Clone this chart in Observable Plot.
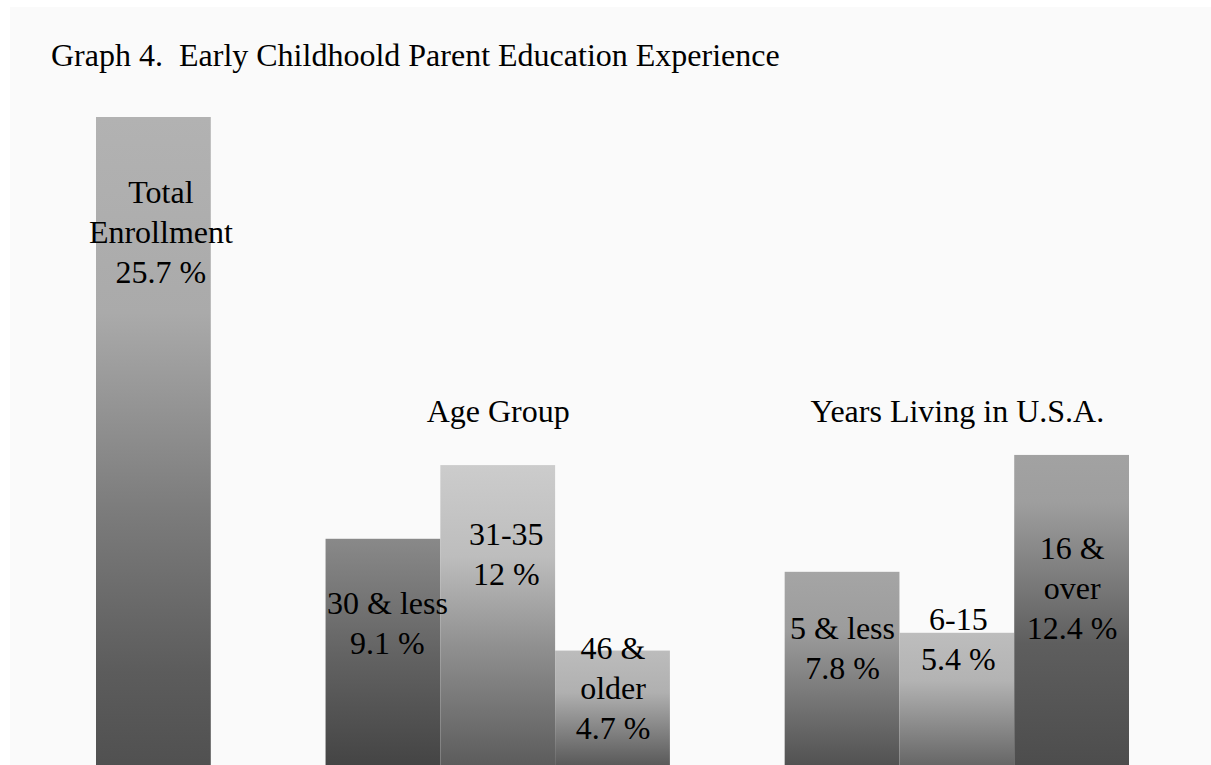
<!DOCTYPE html>
<html>
<head>
<meta charset="utf-8">
<script src="https://cdn.jsdelivr.net/npm/d3@7"></script>
<script src="https://cdn.jsdelivr.net/npm/@observablehq/plot@0.6"></script>
<style>
  html, body { margin: 0; padding: 0; background: #ffffff; overflow: hidden; width: 1211px; height: 765px; }
  #panel { position: absolute; left: 10px; top: 7px; right: 0; bottom: 0; background: #fafafa; }
  #wrap { position: absolute; left: 0; top: 0; width: 1211px; }
  #title { height: 100px; box-sizing: border-box; padding-top: 39px; padding-left: 51px;
           font-family: "Liberation Serif", "Times New Roman", serif; font-size: 32px; line-height: 32px;
           white-space: pre; color: #000; }
  svg { display: block; }
</style>
</head>
<body>
<div id="panel"></div>
<div id="wrap">
  <div id="title">Graph 4.  Early Childhoold Parent Education Experience</div>
  <div id="chart"></div>
</div>
<script>
// ---- data ----
const categories = ["Total Enrollment", "30 & less", "31-35", "46 & older", "5 & less", "6-15", "16 & over"];
const labelLines = ["Total\nEnrollment", "30 & less", "31-35", "46 &\nolder", "5 & less", "6-15", "16 &\nover"];
const values = [25.7, 9.1, 12, 4.7, 7.8, 5.4, 12.4];
const groupNames = ["Age Group", "Years Living in U.S.A."];
const groupCenters = ["31-35", "6-15"];

// ---- styles (not data) ----
const gradients = [
  [[0, "#b2b2b2"], [0.3, "#aaaaaa"], [0.6, "#7c7c7c"], [0.85, "#5c5c5c"], [1, "#505050"]],
  [[0, "#898989"], [0.5, "#636363"], [1, "#434343"]],
  [[0, "#cccccc"], [0.3, "#bdbdbd"], [0.6, "#8f8f8f"], [1, "#5a5a5a"]],
  [[0, "#bcbcbc"], [0.35, "#b0b0b0"], [1, "#545454"]],
  [[0, "#a5a5a5"], [0.3, "#9c9c9c"], [1, "#4f4f4f"]],
  [[0, "#bdbdbd"], [0.35, "#b3b3b3"], [1, "#626262"]],
  [[0, "#a2a2a2"], [0.15, "#9e9e9e"], [0.6, "#5e5e5e"], [1, "#4c4c4c"]]
];
const labelDy = [57, 46, 51, -20, 38, -32, 75];
const labelDx = [7, 4, 8, 0, 0, 1, 0];

const data = categories.map((c, i) => ({
  category: c,
  value: values[i],
  label: labelLines[i] + "\n" + values[i] + " %",
  fill: `url(#grad${i})`,
  dy: labelDy[i],
  dx: labelDx[i]
}));
const groups = groupNames.map((g, i) => ({ name: g, at: groupCenters[i] }));

// x domain with empty slots between groups
const xDomain = [categories[0], "\u2009", ...categories.slice(1, 4), "\u2009\u2009", ...categories.slice(4)];

const plot = Plot.plot({
  width: 1211,
  height: 670,
  marginLeft: 96,
  marginRight: 82,
  marginTop: 17,
  marginBottom: 0,
  style: { background: "transparent", fontFamily: "Liberation Serif, Times New Roman, serif", fontSize: "32px", overflow: "visible" },
  x: { domain: xDomain, padding: 0, round: false, axis: null },
  y: { domain: [0, 25.7], axis: null },
  color: { type: "identity" },
  marks: [
    Plot.barY(data, { x: "category", y: "value", fill: "fill" }),
    ...data.map(d => Plot.text([d], {
      x: "category", y: "value", text: "label", lineAnchor: "top", lineHeight: 1.25,
      dy: d.dy, dx: d.dx, fill: "#000", fontSize: 32
    })),
    Plot.text(groups, {
      x: "at", frameAnchor: "top", text: "name", lineAnchor: "top", dy: 282, fill: "#000", fontSize: 32
    })
  ]
});

const svg = d3.select(plot);
const defs = svg.insert("defs", ":first-child");
gradients.forEach((stops, i) => {
  const g = defs.append("linearGradient").attr("id", `grad${i}`)
    .attr("x1", 0).attr("y1", 0).attr("x2", 0).attr("y2", 1);
  stops.forEach(([o, c]) => g.append("stop").attr("offset", o).attr("stop-color", c));
});

document.getElementById("chart").appendChild(plot);
</script>
</body>
</html>
